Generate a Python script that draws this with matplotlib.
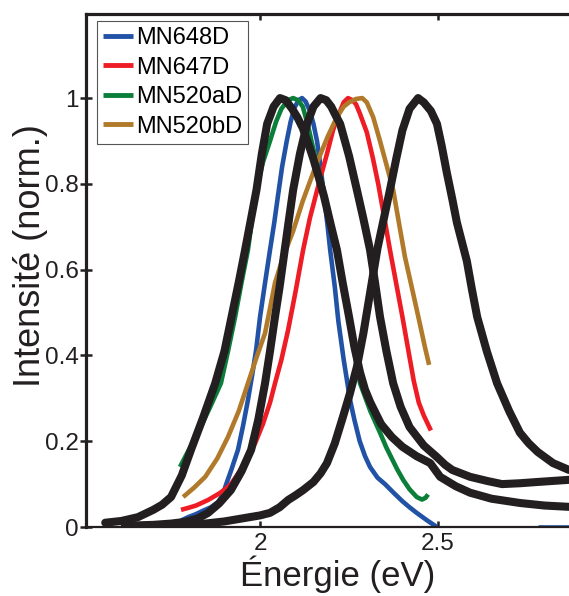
import matplotlib
matplotlib.use("Agg")
import matplotlib.pyplot as plt

plt.rcParams['font.family'] = ['Liberation Sans', 'DejaVu Sans']

# coloured spectra (energy in eV, normalised intensity)
labels = ["MN648D", "MN647D", "MN520aD", "MN520bD"]
colors = ["#2152a6", "#ee1c24", "#0b7f3a", "#b07a2a"]

blue_e = [1.778, 1.798, 1.82, 1.84, 1.862, 1.882, 1.895, 1.905, 1.92, 1.938, 1.952, 1.966, 1.978,
          1.989, 2.0, 2.014, 2.028, 2.04, 2.05, 2.062, 2.075, 2.086, 2.097, 2.108, 2.118, 2.128,
          2.14, 2.15, 2.16, 2.17, 2.18, 2.19, 2.197, 2.21, 2.22, 2.235, 2.253, 2.265, 2.28, 2.295,
          2.309, 2.33, 2.351, 2.375, 2.40, 2.42, 2.44, 2.47, 2.497]
blue_i = [0.015, 0.023, 0.03, 0.038, 0.046, 0.058, 0.075, 0.10, 0.135, 0.18, 0.235, 0.296, 0.355,
          0.413, 0.49, 0.569, 0.646, 0.71, 0.77, 0.84, 0.9, 0.945, 0.978, 0.995, 1.0, 0.992,
          0.97, 0.94, 0.9, 0.84, 0.77, 0.7, 0.646, 0.56, 0.48, 0.39, 0.296, 0.25, 0.2, 0.165,
          0.14, 0.115, 0.10, 0.08, 0.06, 0.046, 0.033, 0.015, 0.0]
blue_tail_e = [2.78, 2.868]
blue_tail_i = [0.0, 0.0]

red_e = [1.778, 1.80, 1.82, 1.854, 1.885, 1.905, 1.918, 1.935, 1.95, 1.968, 1.986, 2.008, 2.028,
         2.042, 2.06, 2.079, 2.10, 2.121, 2.14, 2.165, 2.188, 2.205, 2.22, 2.235, 2.247, 2.26,
         2.27, 2.28, 2.30, 2.317, 2.332, 2.345, 2.365, 2.382, 2.40, 2.417, 2.432, 2.446, 2.46, 2.48]
red_i = [0.04, 0.045, 0.05, 0.063, 0.078, 0.09, 0.10, 0.12, 0.14, 0.165, 0.195, 0.24, 0.29,
         0.335, 0.39, 0.46, 0.55, 0.646, 0.72, 0.8, 0.87, 0.925, 0.96, 0.99, 1.0, 0.995,
         0.985, 0.965, 0.92, 0.86, 0.8, 0.74, 0.646, 0.57, 0.49, 0.41, 0.34, 0.29, 0.26, 0.225]

green_e = [1.775, 1.80, 1.826, 1.86, 1.89, 1.91, 1.93, 1.948, 1.966, 1.978, 1.99, 2.008, 2.028,
           2.045, 2.06, 2.078, 2.093, 2.107, 2.12, 2.135, 2.15, 2.162, 2.175, 2.197, 2.216, 2.232,
           2.25, 2.265, 2.281, 2.31, 2.337, 2.355, 2.37, 2.385, 2.402, 2.42, 2.44, 2.455, 2.465, 2.472]
green_i = [0.14, 0.18, 0.22, 0.28, 0.335, 0.41, 0.49, 0.57, 0.646, 0.72, 0.786, 0.85, 0.90,
           0.945, 0.975, 0.995, 1.0, 0.995, 0.98, 0.935, 0.88, 0.84, 0.8, 0.71, 0.646, 0.57,
           0.49, 0.41, 0.335, 0.27, 0.22, 0.185, 0.16, 0.135, 0.11, 0.088, 0.07, 0.064, 0.068, 0.076]

brown_e = [1.784, 1.815, 1.846, 1.88, 1.91, 1.94, 1.966, 1.99, 2.014, 2.028, 2.042, 2.065, 2.093,
           2.12, 2.149, 2.17, 2.19, 2.216, 2.235, 2.25, 2.27, 2.287, 2.30, 2.318, 2.337, 2.355,
           2.374, 2.39, 2.407, 2.43, 2.45, 2.463, 2.475]
brown_i = [0.07, 0.092, 0.117, 0.16, 0.21, 0.27, 0.335, 0.395, 0.452, 0.51, 0.569, 0.63, 0.69,
           0.76, 0.825, 0.87, 0.91, 0.956, 0.98, 0.99, 0.998, 1.0, 0.99, 0.955, 0.90, 0.845,
           0.786, 0.71, 0.63, 0.545, 0.47, 0.42, 0.378]

# black (measured) spectra
k1_e = [1.565, 1.61, 1.657, 1.70, 1.725, 1.75, 1.78, 1.806, 1.84, 1.874, 1.90, 1.92, 1.94, 1.958,
        1.975, 1.99, 2.005, 2.02, 2.038, 2.056, 2.072, 2.09, 2.105, 2.12, 2.135, 2.149, 2.165,
        2.18, 2.2, 2.216, 2.232, 2.25, 2.265, 2.281, 2.295, 2.31, 2.325, 2.34, 2.37, 2.40, 2.44,
        2.478, 2.506, 2.55, 2.59, 2.65, 2.73, 2.80, 2.868]
k1_i = [0.01, 0.014, 0.023, 0.04, 0.052, 0.07, 0.12, 0.18, 0.255, 0.335, 0.41, 0.49, 0.57, 0.646,
        0.72, 0.786, 0.87, 0.94, 0.98, 1.0, 0.995, 0.975, 0.955, 0.93, 0.895, 0.86, 0.815,
        0.77, 0.70, 0.646, 0.57, 0.49, 0.42, 0.36, 0.32, 0.29, 0.265, 0.24, 0.21, 0.187, 0.165,
        0.149, 0.117, 0.095, 0.08, 0.066, 0.056, 0.05, 0.047]

k2_e = [1.62, 1.70, 1.75, 1.79, 1.825, 1.854, 1.885, 1.918, 1.948, 1.975, 1.995, 2.014, 2.028,
        2.042, 2.055, 2.065, 2.08, 2.093, 2.112, 2.132, 2.15, 2.17, 2.186, 2.2, 2.212, 2.225,
        2.25, 2.272, 2.29, 2.309, 2.323, 2.337, 2.355, 2.374, 2.395, 2.42, 2.46, 2.497, 2.52,
        2.54, 2.59, 2.64, 2.68, 2.73, 2.78, 2.868]
k2_i = [0.003, 0.005, 0.008, 0.012, 0.02, 0.033, 0.055, 0.086, 0.13, 0.18, 0.25, 0.335, 0.41,
        0.49, 0.56, 0.62, 0.71, 0.786, 0.87, 0.94, 0.98, 1.0, 0.995, 0.98, 0.96, 0.94,
        0.865, 0.786, 0.72, 0.646, 0.57, 0.49, 0.41, 0.335, 0.28, 0.233, 0.19, 0.163, 0.145,
        0.133, 0.117, 0.107, 0.10, 0.102, 0.105, 0.11]

k3_e = [1.80, 1.846, 1.90, 1.95, 2.0, 2.028, 2.055, 2.079, 2.10, 2.121, 2.15, 2.17, 2.188, 2.21,
        2.233, 2.252, 2.272, 2.29, 2.30, 2.315, 2.33, 2.348, 2.365, 2.383, 2.40, 2.42, 2.444,
        2.46, 2.48, 2.497, 2.51, 2.525, 2.54, 2.553, 2.567, 2.581, 2.595, 2.61, 2.637, 2.666,
        2.70, 2.73, 2.755, 2.78, 2.823, 2.868]
k3_i = [0.003, 0.008, 0.013, 0.02, 0.027, 0.033, 0.046, 0.063, 0.074, 0.086, 0.105, 0.125, 0.149,
        0.195, 0.257, 0.31, 0.373, 0.45, 0.50, 0.575, 0.65, 0.72, 0.786, 0.86, 0.925, 0.975, 1.0,
        0.99, 0.97, 0.94, 0.89, 0.825, 0.765, 0.71, 0.665, 0.62, 0.555, 0.49, 0.41, 0.335,
        0.27, 0.22, 0.195, 0.175, 0.149, 0.133]

xticks = [2, 2.5]
xticklabels = ["2", "2.5"]
yticks = [0, 0.2, 0.4, 0.6, 0.8, 1]
yticklabels = ["0", "0.2", "0.4", "0.6", "0.8", "1"]

fig = plt.figure(figsize=(5.69, 5.96), dpi=100)
ax = fig.add_axes([86 / 569, 1 - 527 / 596, 483 / 569, 513 / 596])

series = [(blue_e, blue_i), (red_e, red_i), (green_e, green_i), (brown_e, brown_i)]
for (e, i), c, lab in zip(series, colors, labels):
    ax.plot(e, i, color=c, lw=3.3, label=lab, solid_capstyle='butt',
            solid_joinstyle='round', zorder=2)
ax.plot(blue_tail_e, blue_tail_i, color=colors[0], lw=3.3, solid_capstyle='butt', zorder=2)

for e, i in [(k1_e, k1_i), (k2_e, k2_i), (k3_e, k3_i)]:
    ax.plot(e, i, color="#231f20", lw=5.8, solid_capstyle='round',
            solid_joinstyle='round', zorder=3)

ax.set_xlim(1.511, 2.868)
ax.set_ylim(0, 1.196)
ax.set_xticks(xticks)
ax.set_xticklabels(xticklabels)
ax.set_yticks(yticks)
ax.set_yticklabels(yticklabels)

ax.spines['right'].set_visible(False)
ax.spines['left'].set_linewidth(2.3)
ax.spines['top'].set_linewidth(2.3)
ax.spines['bottom'].set_linewidth(1.6)
for s in ['left', 'top', 'bottom']:
    ax.spines[s].set_color("#231f20")

ax.tick_params(axis='y', direction='inout', length=8, width=1.8, labelsize=17.5, pad=1, colors="#231f20")
ax.tick_params(axis='x', direction='in', length=4, width=1.8, labelsize=17.5, pad=4,
               top=True, colors="#231f20")

ax.set_xlabel("Énergie (eV)", fontsize=25, color="#231f20")
ax.xaxis.set_label_coords(0.52, -0.055)
ax.set_ylabel("Intensité (norm.)", fontsize=26, color="#231f20")
ax.yaxis.set_label_coords(-0.078, 0.53)

leg = ax.legend(loc='upper left', bbox_to_anchor=(0.0228, 0.986), borderaxespad=0,
                fontsize=17, handlelength=1.27, handletextpad=0.15, labelspacing=0.32,
                borderpad=0.25, fancybox=False, framealpha=1)
leg.get_frame().set_edgecolor("#555555")
leg.get_frame().set_linewidth(0.8)
for line in leg.get_lines():
    line.set_linewidth(3.5)

fig.savefig("out.png", dpi=100)
